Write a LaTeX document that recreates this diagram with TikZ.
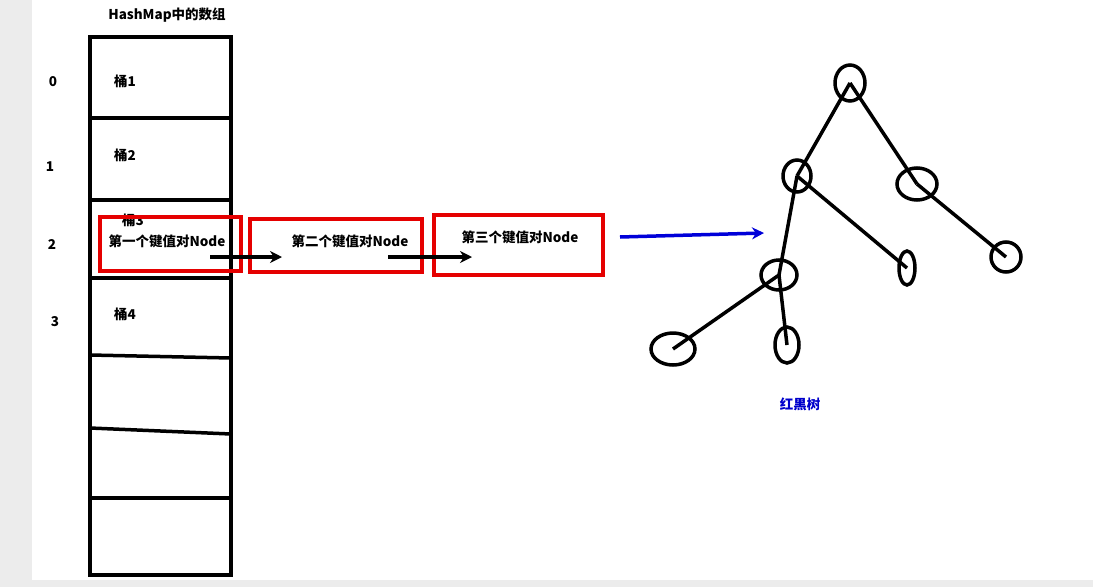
\documentclass[tikz,border=0pt]{standalone}
\usepackage{fontspec}
\setmainfont{Liberation Sans}
\newfontfamily\cjk{Noto Sans CJK SC}
\usetikzlibrary{arrows.meta,shapes.geometric}
\begin{document}
\begin{tikzpicture}[x=1pt,y=-1pt,
  lbl/.style={font=\cjk\bfseries\fontsize{13.5}{15}\selectfont,inner sep=0pt},
  redbox/.style={draw=red!90!black,line width=3.5pt},
  ell/.style={draw=black,line width=3.5pt,ellipse,inner sep=0pt},
  edge/.style={draw=black,line width=3.5pt},
  arr/.style={line width=3.5pt,-{Stealth[length=12pt,width=12pt]}}]
\useasboundingbox (0,0) rectangle (1093,587);
\fill[gray!15] (0,0) rectangle (1093,587);
\fill[white] (32,0) rectangle (1093,580);
% array
\draw[line width=3.5pt] (90,37) rectangle (231,575);
\foreach \y/\z in {118/118,200/200,278/278,355/358,428/434,498/498}
  \draw[line width=3.5pt] (90,\y) -- (231,\z);
\node[lbl] (title) at (167,15) {HashMap中的数组};
\node[lbl] (i0) at (53,82) {0};
\node[lbl] (i1) at (50,167) {1};
\node[lbl] (i2) at (52,244) {2};
\node[lbl] (i3) at (55,322) {3};
\node[lbl] (b1) at (125,81) {桶1};
\node[lbl] (b2) at (125,155) {桶2};
\node[lbl] (b3) at (133,220) {桶3};
\node[lbl] (b4) at (125,314) {桶4};
% node boxes
\draw[redbox] (100,217) rectangle (241,271);
\node[lbl] (n1) at (167,241) {第一个键值对Node};
\draw[redbox] (250,219) rectangle (422,272);
\node[lbl] (n2) at (350,241) {第二个键值对Node};
\draw[redbox] (434,215) rectangle (603,275);
\node[lbl] (n3) at (520,237) {第三个键值对Node};
\coordinate (a1s) at (210,257); \coordinate (a1e) at (282,257);
\coordinate (a2s) at (388,257); \coordinate (a2e) at (472,257);
\draw[arr] (a1s) -- (a1e);
\draw[arr] (a2s) -- (a2e);
\coordinate (bs) at (620,237); \coordinate (be) at (764,233);
\draw[arr,blue!85!black] (bs) -- (be);
% tree
\node[ell,minimum width=30pt,minimum height=36pt] (A) at (850,83) {};
\node[ell,minimum width=28pt,minimum height=32pt] (B) at (797,176) {};
\node[ell,minimum width=40pt,minimum height=32pt] (C) at (917,184) {};
\node[ell,minimum width=30pt,minimum height=30pt] (D) at (1006,257) {};
\node[ell,minimum width=16pt,minimum height=34pt] (E) at (907,268) {};
\node[ell,minimum width=36pt,minimum height=30pt] (F) at (779,275) {};
\node[ell,minimum width=44pt,minimum height=32pt] (G) at (673,349) {};
\node[ell,minimum width=24pt,minimum height=36pt] (H) at (787,345) {};
\draw[edge] (A.center) -- (B.center);
\draw[edge] (A.center) -- (C.center);
\draw[edge] (B.center) -- (F.center);
\draw[edge] (B.center) -- (E.center);
\draw[edge] (C.center) -- (D.center);
\draw[edge] (F.center) -- (G.center);
\draw[edge] (F.center) -- (H.center);
\node[lbl,text=blue!80!black] (rb) at (800,404) {红黑树};
\end{tikzpicture}
\end{document}
